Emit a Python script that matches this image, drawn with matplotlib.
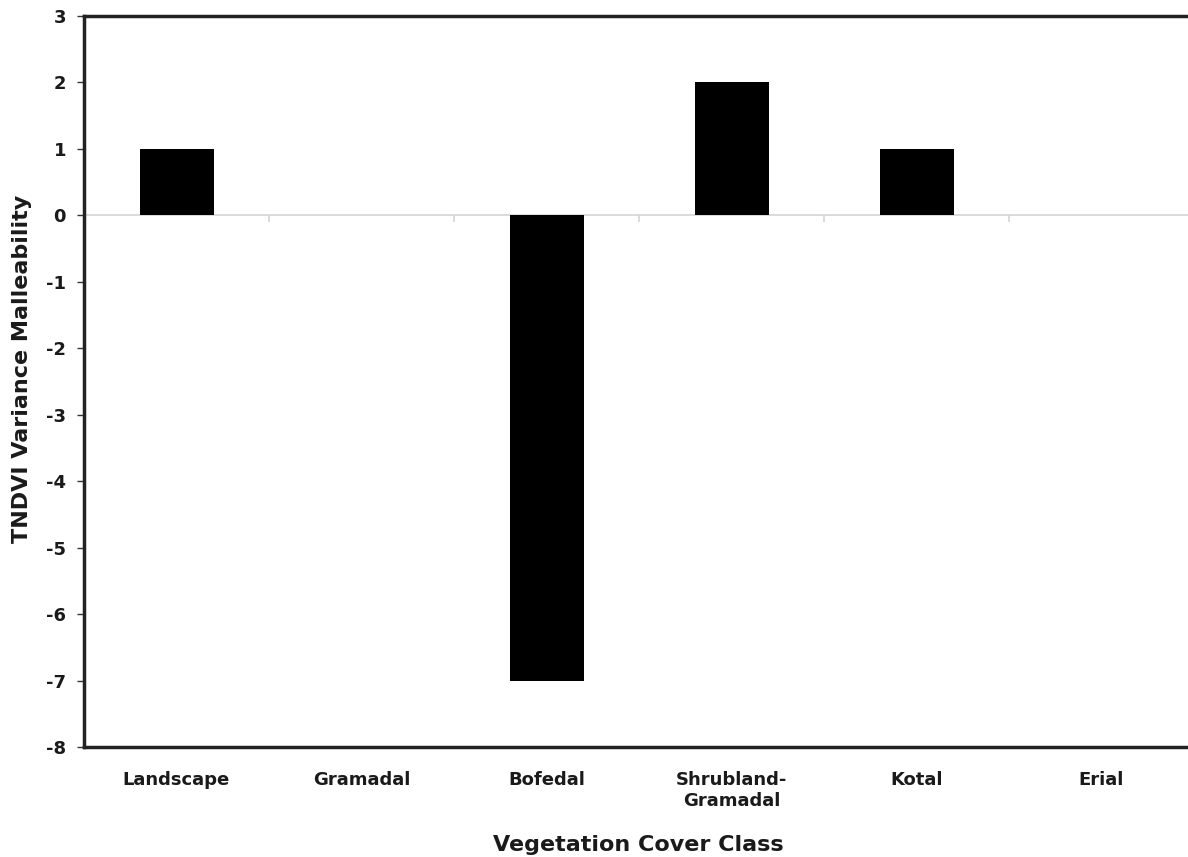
import numpy as np
import matplotlib.pyplot as plt

# Données
categories = ["Landscape", "Gramadal", "Bofedal", "Shrubland-\nGramadal", "Kotal", "Erial"]
malleability = [1, 0, -7, 2, 1, 0]
y_ticks = [3, 2, 1, 0, -1, -2, -3, -4, -5, -6, -7, -8]

plt.rcParams['font.family'] = ['DejaVu Sans']

fig = plt.figure(figsize=(11.88, 8.57), dpi=100)
W, H = 1188, 857
# axe : gauche 84 px, haut 16 px, bas 747 px, le bord droit sort de l'image
ax = fig.add_axes([84 / W, 1 - 747 / H, (W - 84) / W, (747 - 16) / H])

x = np.arange(len(categories))
ax.bar(x, malleability, width=0.4, color='black', zorder=3)

# ligne du zéro grise avec petites graduations entre catégories
ax.axhline(0, color='#d4d4d4', linewidth=1.2, zorder=2)
ax.vlines(x[:-1] + 0.5, -0.1, 0, color='#d4d4d4', linewidth=1.2, zorder=2)

ax.set_xlim(-0.5, -0.5 + (W - 84) / 185)
ax.set_ylim(-8, 3)
ax.set_yticks(y_ticks)
ax.set_yticklabels([str(v) for v in y_ticks], fontsize=13, fontweight='bold', color='#1a1a1a')
ax.set_xticks(x)
ax.set_xticklabels(categories, fontsize=13, fontweight='bold', color='#1a1a1a', linespacing=1.25)
ax.tick_params(axis='x', length=0, pad=17)
ax.tick_params(axis='y', length=5, width=1, color='#333333', pad=8)

for side in ['left', 'top', 'bottom']:
    ax.spines[side].set_linewidth(2.5)
    ax.spines[side].set_color('#222222')
ax.spines['right'].set_visible(False)

ax.set_xlabel("Vegetation Cover Class", fontsize=16, fontweight='bold', color='#1a1a1a')
ax.set_ylabel("TNDVI Variance Malleability", fontsize=16, fontweight='bold', color='#1a1a1a')
ax.xaxis.label.set_va('center')
ax.yaxis.label.set_va('center')
# positions des titres d'axes (en pixels de la figure : x=638, y=845 et x=22, y=369)
ax.xaxis.set_label_coords((638 - 84) / (W - 84), (747 - 845) / (747 - 16))
ax.yaxis.set_label_coords((22 - 84) / (W - 84), (747 - 369) / (747 - 16))

fig.savefig("out.png", dpi=100)
